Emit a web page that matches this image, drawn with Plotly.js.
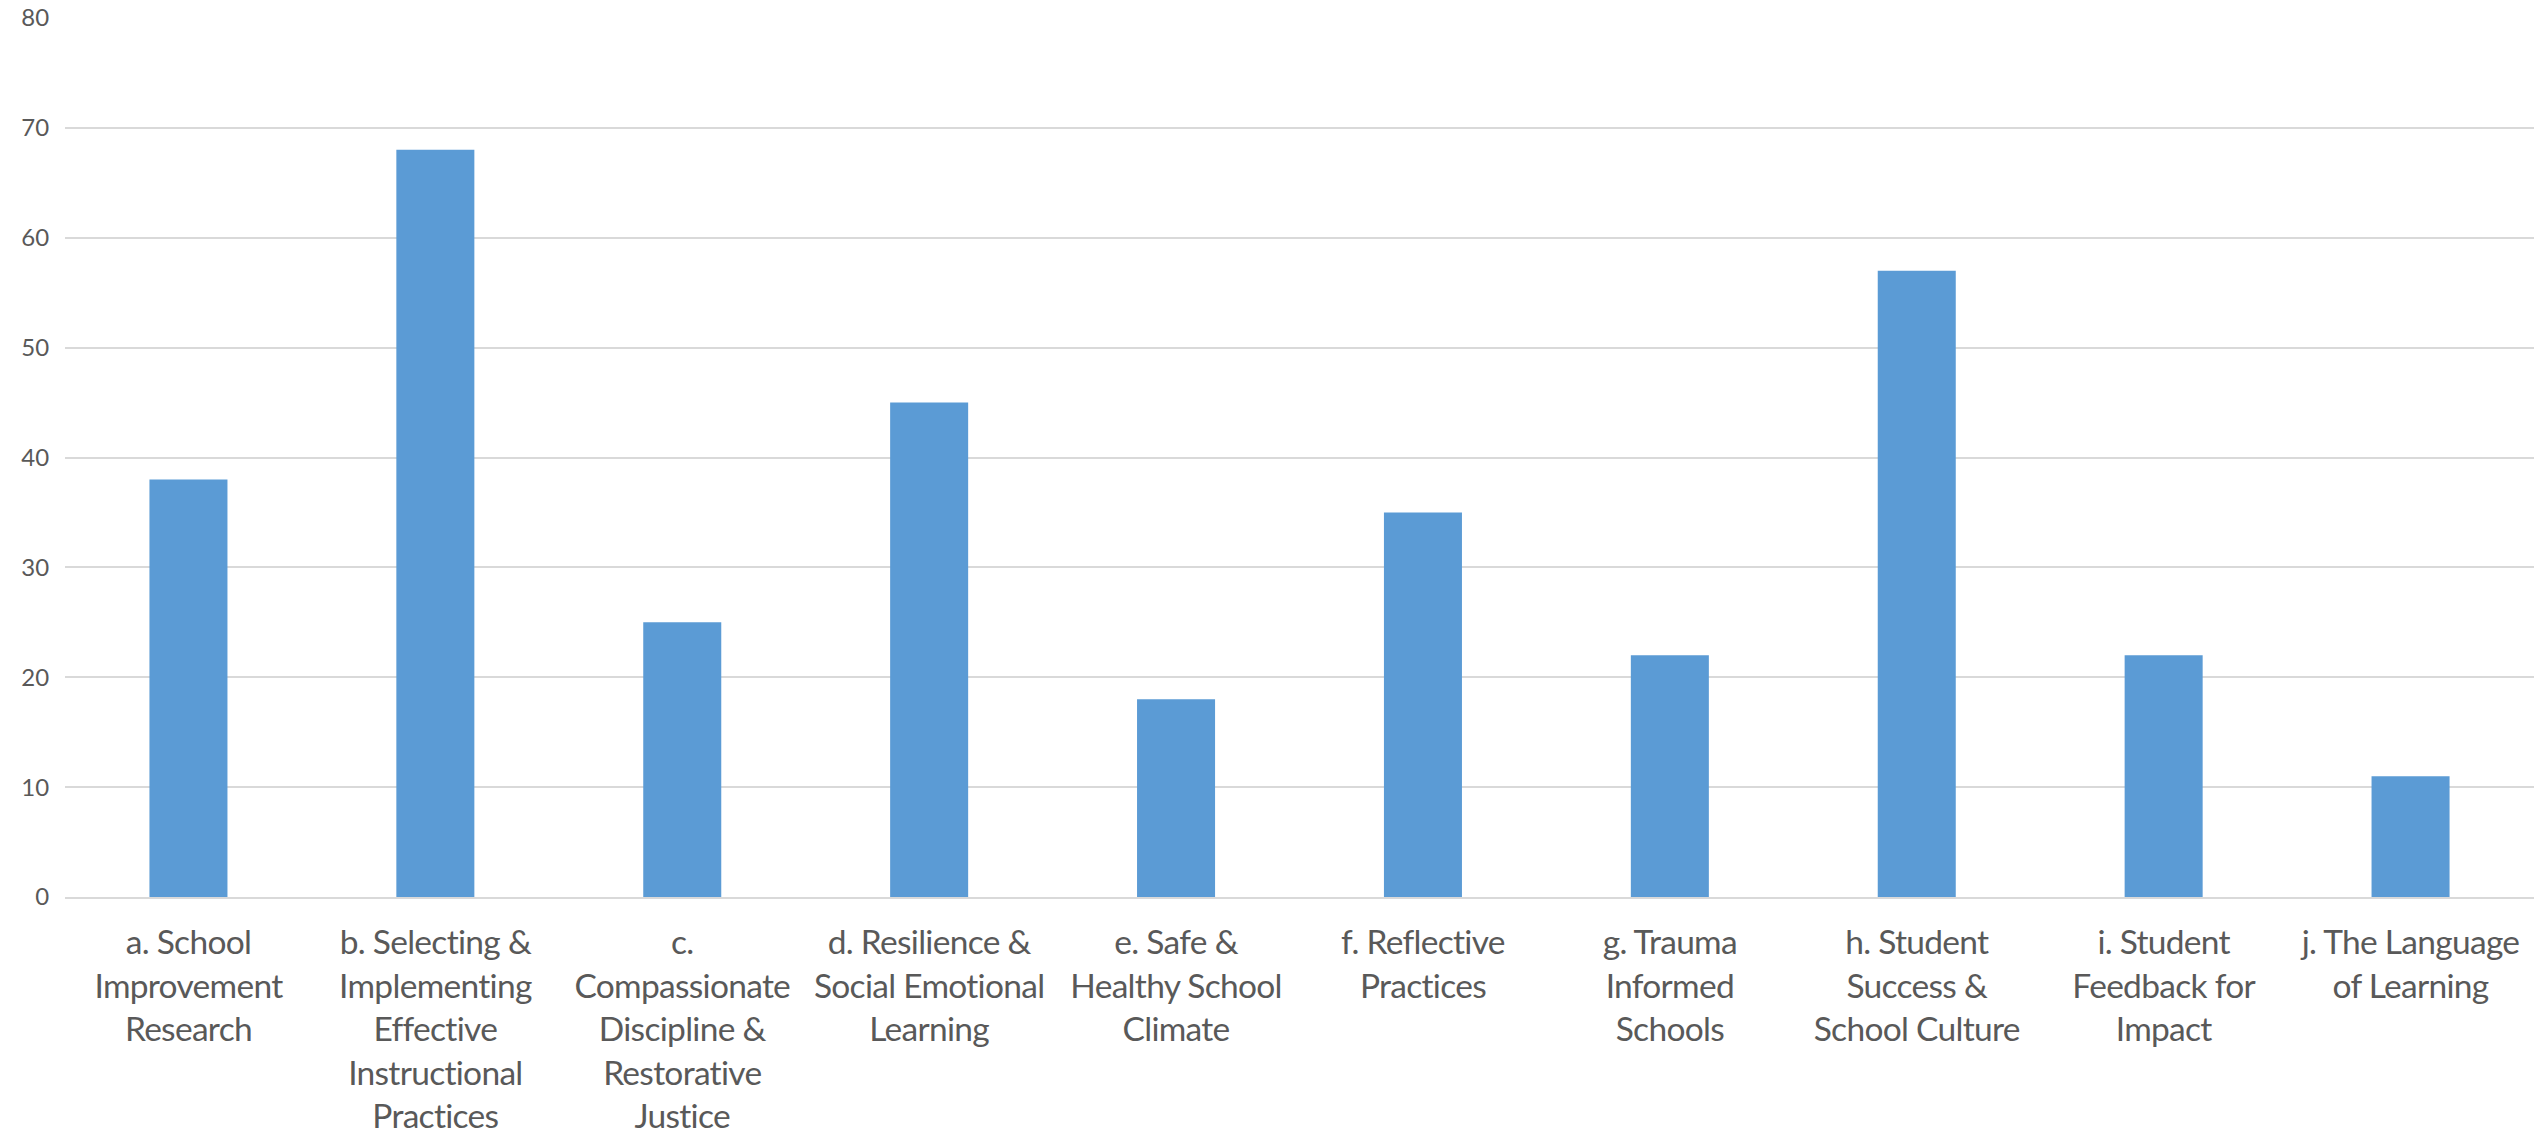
<!DOCTYPE html>
<html>
<head>
<meta charset="utf-8">
<script src="https://cdn.plot.ly/plotly-3.0.1.min.js"></script>
<style>
html,body{margin:0;padding:0;background:#fff;}
#chart{width:2539px;height:1136px;}
#chart .xtick text{letter-spacing:-0.7px;}
</style>
</head>
<body>
<div id="chart"></div>
<script>
const categories = [
  "a. School<br>Improvement<br>Research",
  "b. Selecting &<br>Implementing<br>Effective<br>Instructional<br>Practices",
  "c.<br>Compassionate<br>Discipline &<br>Restorative<br>Justice",
  "d. Resilience &<br>Social Emotional<br>Learning",
  "e. Safe &<br>Healthy School<br>Climate",
  "f. Reflective<br>Practices",
  "g. Trauma<br>Informed<br>Schools",
  "h. Student<br>Success &<br>School Culture",
  "i. Student<br>Feedback for<br>Impact",
  "j. The Language<br>of Learning"
];
const values = [38, 68, 25, 45, 18, 35, 22, 57, 22, 11];
const yTicks = [0, 10, 20, 30, 40, 50, 60, 70, 80];

const trace = {
  type: 'bar',
  x: categories,
  y: values,
  marker: {color: '#5B9BD5'},
  hoverinfo: 'x+y'
};

const layout = {
  width: 2539,
  height: 1136,
  margin: {l: 65, r: 5, t: 18, b: 239},
  paper_bgcolor: '#ffffff',
  plot_bgcolor: '#ffffff',
  bargap: 0.684,
  showlegend: false,
  font: {family: 'Lato, "Open Sans", sans-serif', color: '#595959'},
  xaxis: {
    type: 'category',
    tickfont: {size: 33.5, color: '#595959'},
    showgrid: false,
    showline: true,
    linecolor: '#D9D9D9',
    linewidth: 2,
    ticks: 'outside',
    ticklen: 15,
    tickcolor: 'rgba(0,0,0,0)',
    tickangle: 0,
    automargin: false
  },
  yaxis: {
    range: [0, 80],
    tickvals: yTicks,
    ticktext: yTicks.map(String),
    tickfont: {size: 24, color: '#595959'},
    showgrid: true,
    gridcolor: '#D9D9D9',
    gridwidth: 2,
    zeroline: false,
    showline: false,
    ticks: 'outside',
    ticklen: 10,
    tickcolor: 'rgba(0,0,0,0)',
    automargin: false
  }
};

Plotly.newPlot('chart', [trace], layout, {displayModeBar: false, staticPlot: true});
</script>
</body>
</html>
